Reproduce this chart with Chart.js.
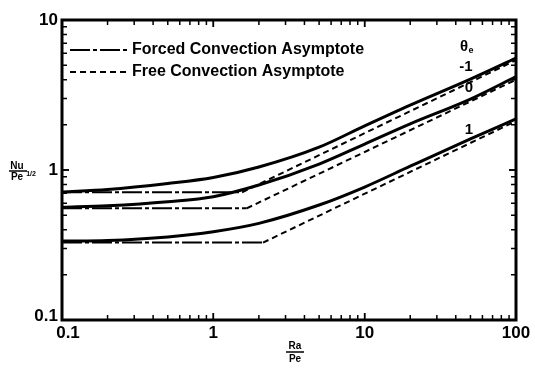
<!DOCTYPE html>
<html lang="en">
<head>
    <meta charset="UTF-8">
    <title>Nu / Pe^1/2 vs Ra / Pe</title>
    <script src="https://cdn.jsdelivr.net/npm/chart.js"></script>
    <style>
        html, body { margin: 0; padding: 0; background: #fff; }
        #wrap { width: 535px; height: 369px; }
    </style>
</head>
<body>
    <div id="wrap"><canvas id="chart" width="535" height="369"></canvas></div>

    <script>
        // values
        const raPe = [0.1, 0.2, 0.5, 1, 2, 5, 10, 20, 50, 100];
        const nuMinus1 = [0.713, 0.741, 0.813, 0.891, 1.047, 1.42, 1.97, 2.71, 4.04, 5.58];
        const nuZero   = [0.564, 0.578, 0.615, 0.664, 0.794, 1.096, 1.49, 2.03, 2.97, 4.19];
        const nuOne    = [0.336, 0.339, 0.358, 0.388, 0.441, 0.584, 0.77, 1.06, 1.61, 2.19];

        // asymptotes (end points)
        const forcedX = [[0.1, 1.55], [0.1, 1.66], [0.1, 2.13]];
        const forcedY = [[0.71, 0.71], [0.555, 0.555], [0.328, 0.328]];
        const freeX = [[1.55, 100], [1.66, 100], [2.13, 100]];
        const freeY = [[0.71, 5.4], [0.555, 4.0], [0.328, 2.12]];

        const xTicks = [0.1, 1, 10, 100];
        const xTickLabels = ['0.1', '1', '10', '100'];
        const yTicks = [0.1, 1, 10];
        const yTickLabels = ['0.1', '1', '10'];

        const thetaLabels = ['-1', '0', '1'];

        const pts = (xs, ys) => xs.map((x, i) => ({ x: x, y: ys[i] }));

        const datasets = [];
        for (let i = 0; i < 3; i++) {
            datasets.push({
                data: pts(forcedX[i], forcedY[i]),
                borderColor: '#000', borderWidth: 2,
                borderDash: [20, 3, 4, 3], pointRadius: 0
            });
            datasets.push({
                data: pts(freeX[i], freeY[i]),
                borderColor: '#000', borderWidth: 2,
                borderDash: [6, 4], pointRadius: 0
            });
        }
        [nuMinus1, nuZero, nuOne].forEach(ys => {
            datasets.push({
                data: pts(raPe, ys),
                borderColor: '#000', borderWidth: 3,
                cubicInterpolationMode: 'monotone', pointRadius: 0
            });
        });

        // frame, inward ticks, legend and labels
        const decor = {
            id: 'decor',
            afterDraw(chart) {
                const ctx = chart.ctx;
                const xs = chart.scales.x, ys = chart.scales.y;
                const L = xs.left, R = xs.right, T = ys.top, B = ys.bottom;
                ctx.save();
                ctx.strokeStyle = '#000';
                ctx.fillStyle = '#000';

                // minor / major ticks on all sides
                ctx.lineWidth = 1.5;
                for (let d = 0.1; d < 100; d *= 10) {
                    for (let k = 1; k <= 10; k++) {
                        const v = d * k;
                        const len = (k === 1 || k === 10) ? 7 : 5;
                        const px = xs.getPixelForValue(v);
                        ctx.beginPath();
                        ctx.moveTo(px, B); ctx.lineTo(px, B - len);
                        ctx.moveTo(px, T); ctx.lineTo(px, T + len);
                        ctx.stroke();
                    }
                }
                for (let d = 0.1; d < 10; d *= 10) {
                    for (let k = 1; k <= 10; k++) {
                        const v = d * k;
                        const len = (k === 1 || k === 10) ? 7 : 5;
                        const py = ys.getPixelForValue(v);
                        ctx.beginPath();
                        ctx.moveTo(L, py); ctx.lineTo(L + len, py);
                        ctx.moveTo(R, py); ctx.lineTo(R - len, py);
                        ctx.stroke();
                    }
                }

                // frame
                ctx.lineWidth = 3;
                ctx.strokeRect(L, T, R - L, B - T);

                // tick labels
                ctx.font = 'bold 17px "Liberation Sans Narrow", "Liberation Sans", sans-serif';
                ctx.textAlign = 'center';
                ctx.textBaseline = 'top';
                xTicks.forEach((v, i) => {
                    ctx.fillText(xTickLabels[i], xs.getPixelForValue(v) + (i === 0 ? 6 : 0), B + 5);
                });
                ctx.textAlign = 'right';
                ctx.textBaseline = 'middle';
                yTicks.forEach((v, i) => {
                    ctx.fillText(yTickLabels[i], L - 4, ys.getPixelForValue(v) - (i === 0 ? 4 : 0));
                });

                // legend
                ctx.font = 'bold 16px "Liberation Sans Narrow", "Liberation Sans", sans-serif';
                ctx.textAlign = 'left';
                ctx.lineWidth = 2;
                ctx.setLineDash([20, 3, 4, 3]);
                ctx.beginPath(); ctx.moveTo(L + 8, 50); ctx.lineTo(L + 66, 50); ctx.stroke();
                ctx.setLineDash([6, 4]);
                ctx.beginPath(); ctx.moveTo(L + 8, 72); ctx.lineTo(L + 66, 72); ctx.stroke();
                ctx.setLineDash([]);
                ctx.fillText('Forced Convection Asymptote', L + 70, 50);
                ctx.fillText('Free Convection Asymptote', L + 70, 72);

                // theta labels
                ctx.font = 'bold 15px "Liberation Sans", sans-serif';
                ctx.textAlign = 'center';
                ctx.fillText('\u03b8', 464, 47);
                ctx.font = 'bold 9px "Liberation Sans", sans-serif';
                ctx.fillText('e', 471, 51);
                ctx.font = 'bold 15px "Liberation Sans", sans-serif';
                ctx.fillText(thetaLabels[0], 466, 67);
                ctx.fillText(thetaLabels[1], 469, 88);
                ctx.fillText(thetaLabels[2], 469, 130);

                // y title  Nu / Pe^1/2
                ctx.font = 'bold 10px "Liberation Sans", sans-serif';
                ctx.fillText('Nu', 17, 166);
                ctx.lineWidth = 1.5;
                ctx.beginPath(); ctx.moveTo(9, 171); ctx.lineTo(27, 171); ctx.stroke();
                ctx.fillText('Pe', 17, 177);
                ctx.font = 'bold 7px "Liberation Sans", sans-serif';
                ctx.fillText('1/2', 31, 174);

                // x title  Ra / Pe
                ctx.font = 'bold 10px "Liberation Sans", sans-serif';
                ctx.fillText('Ra', 295, 346);
                ctx.beginPath(); ctx.moveTo(286, 352); ctx.lineTo(304, 352); ctx.stroke();
                ctx.fillText('Pe', 295, 359);
                ctx.restore();
            }
        };

        new Chart(document.getElementById('chart'), {
            type: 'line',
            data: { datasets: datasets },
            options: {
                responsive: false,
                animation: false,
                layout: { padding: { top: 20, right: 19, left: 0, bottom: 0 } },
                plugins: { legend: { display: false }, tooltip: { enabled: false } },
                scales: {
                    x: {
                        type: 'logarithmic', min: 0.1, max: 100,
                        grid: { display: false },
                        border: { display: false },
                        ticks: { display: false },
                        afterFit: s => { s.height = 49; }
                    },
                    y: {
                        type: 'logarithmic', min: 0.1, max: 10,
                        grid: { display: false },
                        border: { display: false },
                        ticks: { display: false },
                        afterFit: s => { s.width = 62; }
                    }
                }
            },
            plugins: [decor]
        });
    </script>
</body>
</html>
